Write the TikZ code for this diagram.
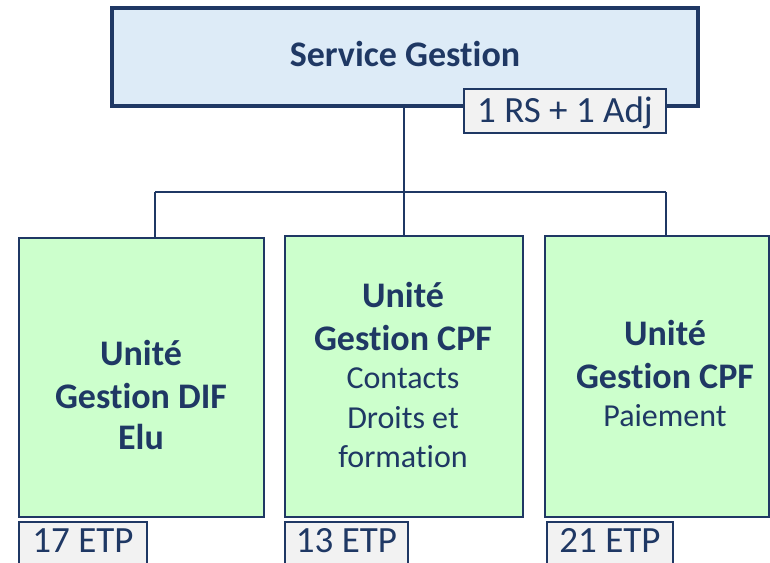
\documentclass[tikz,border=0pt]{standalone}
\usepackage{fontspec}
\setmainfont{Carlito}[RawFeature=-liga]
\definecolor{navy}{RGB}{31,56,100}
\definecolor{topfill}{RGB}{221,235,247}
\definecolor{greenfill}{RGB}{204,255,204}
\definecolor{tagfill}{RGB}{242,242,242}
\tikzset{
  topbox/.style={draw=navy, fill=topfill, line width=3.5pt, inner sep=0pt},
  unitbox/.style={draw=navy, fill=greenfill, line width=2.5pt, inner sep=0pt},
  tagbox/.style={draw=navy, fill=tagfill, line width=1.8pt, inner sep=0pt},
  conn/.style={draw=navy, line width=2pt},
  boldtxt/.style={text=navy, font=\fontsize{36}{42}\selectfont\bfseries, anchor=base, inner sep=0pt},
  regtxt/.style={text=navy, font=\fontsize{32}{38}\selectfont, anchor=base, inner sep=0pt},
  tagtxt/.style={text=navy, font=\fontsize{37}{42}\selectfont, anchor=base, inner sep=0pt}
}
\begin{document}
\begin{tikzpicture}[x=1pt,y=-1pt]
\useasboundingbox (0,0) rectangle (770,562);
% boxes
\node[topbox, minimum width=586pt, minimum height=98pt] (sg) at (405,57) {};
\node[unitbox, minimum width=245pt, minimum height=279pt] (left) at (141.5,377.5) {};
\node[unitbox, minimum width=238pt, minimum height=281pt] (mid) at (404,376.5) {};
\node[unitbox, minimum width=224pt, minimum height=281pt] (right) at (657,376.5) {};
% connectors
\coordinate (jl) at (155,192);
\coordinate (jr) at (666,192);
\coordinate (jm) at (404,192);
\draw[conn] (sg.south -| jm) -- (mid.north -| jm);
\draw[conn] (jl) -- (jr);
\draw[conn] (jl) -- (jl |- left.north);
\draw[conn] (jr) -- (jr |- right.north);
% tags
\node[tagbox, minimum width=202pt, minimum height=44pt] (tagsg) at (565,111) {};
\node[tagtxt] (tagsgt) at (tagsg.center |- 0,122) {1 RS + 1 Adj};
\node[tagbox, minimum width=128pt, minimum height=44pt] (tagl) at (83,544) {};
\node[tagbox, minimum width=123pt, minimum height=44pt] (tagm) at (346.5,544) {};
\node[tagbox, minimum width=126pt, minimum height=44pt] (tagr) at (610,544) {};
\node[tagtxt] (taglt) at (tagl.center |- 0,552) {17 ETP};
\node[tagtxt] (tagmt) at (tagm.center |- 0,552) {13 ETP};
\node[tagtxt] (tagrt) at (tagr.center |- 0,552) {21 ETP};
% texts
\node[boldtxt] (sgt) at (405,66) {Service Gestion};
\node[boldtxt] (l1) at (141,365) {Unité};
\node[boldtxt] (l2) at (141,408) {Gestion DIF};
\node[boldtxt] (l3) at (141,449) {Elu};
\node[boldtxt] (m1) at (403,307) {Unité};
\node[boldtxt] (m2) at (403,350) {Gestion CPF};
\node[regtxt] (m3) at (403,388) {Contacts};
\node[regtxt] (m4) at (403,428) {Droits et};
\node[regtxt] (m5) at (403,467) {formation};
\node[boldtxt] (r1) at (665,345) {Unité};
\node[boldtxt] (r2) at (665,388) {Gestion CPF};
\node[regtxt] (r3) at (665,426) {Paiement};
\end{tikzpicture}
\end{document}
